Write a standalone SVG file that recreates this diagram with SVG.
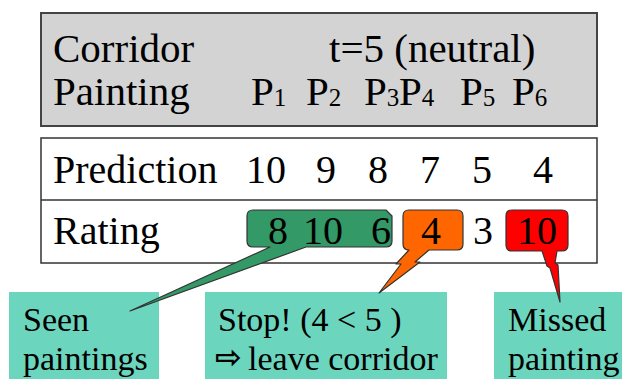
<svg xmlns="http://www.w3.org/2000/svg" width="622" height="379" viewBox="0 0 622 379">
<style>
svg text, svg tspan{font-family:'Liberation Serif', serif !important;fill:#000}
svg text.arrow{font-family:'DejaVu Sans', sans-serif !important;font-weight:bold}
.big{font-size:41px}
.mid{font-size:40px}
.sm{font-size:34px}
.sub{font-size:25px}
.lbl{fill:#6CD5BE}
.bub{stroke:#333;stroke-width:1.2;stroke-linejoin:round}
</style>
<rect width="622" height="379" fill="#fff"/>
<g id="header">
<rect x="41" y="13" width="556" height="113" fill="#D3D3D3" stroke="#444" stroke-width="2"/>
<text class="big" style="font-family:'Liberation Serif',serif !important" x="53" y="62">Corridor</text>
<text class="big" style="font-family:'Liberation Serif',serif !important" x="329" y="62">t=5 (neutral)</text>
<text class="big" style="font-family:'Liberation Serif',serif !important" x="53" y="105">Painting</text>
<text class="big" style="font-family:'Liberation Serif',serif !important" x="251" y="105">P<tspan class="sub" dy="1">1</tspan></text>
<text class="big" style="font-family:'Liberation Serif',serif !important" x="306" y="105">P<tspan class="sub" dy="1">2</tspan></text>
<text class="big" style="font-family:'Liberation Serif',serif !important" x="364" y="105">P<tspan class="sub" dy="1">3</tspan></text>
<text class="big" style="font-family:'Liberation Serif',serif !important" x="399" y="105">P<tspan class="sub" dy="1">4</tspan></text>
<text class="big" style="font-family:'Liberation Serif',serif !important" x="460" y="105">P<tspan class="sub" dy="1">5</tspan></text>
<text class="big" style="font-family:'Liberation Serif',serif !important" x="512" y="105">P<tspan class="sub" dy="1">6</tspan></text>
</g>
<g id="table">
<rect x="41" y="138" width="556" height="125" fill="#fff" stroke="#333" stroke-width="1.5"/>
<line x1="41" y1="200" x2="597" y2="200" stroke="#333" stroke-width="1.5"/>
<text class="mid" style="font-family:'Liberation Serif',serif !important" x="53" y="183">Prediction</text>
<text class="mid" style="font-family:'Liberation Serif',serif !important" x="246" y="183">10</text>
<text class="mid" style="font-family:'Liberation Serif',serif !important" x="316" y="183">9</text>
<text class="mid" style="font-family:'Liberation Serif',serif !important" x="368" y="183">8</text>
<text class="mid" style="font-family:'Liberation Serif',serif !important" x="420" y="183">7</text>
<text class="mid" style="font-family:'Liberation Serif',serif !important" x="472" y="183">5</text>
<text class="mid" style="font-family:'Liberation Serif',serif !important" x="533" y="183">4</text>
<text class="mid" style="font-family:'Liberation Serif',serif !important" x="53" y="244">Rating</text>
<text class="mid" style="font-family:'Liberation Serif',serif !important" x="473" y="244">3</text>
</g>
<g id="seen-label">
<rect class="lbl" x="9" y="292" width="150" height="87"/>
<text class="sm" style="font-family:'Liberation Serif',serif !important" x="23" y="331">Seen</text>
<text class="sm" style="font-family:'Liberation Serif',serif !important" x="23" y="370">paintings</text>
</g>
<g id="stop-label">
<rect class="lbl" x="205" y="292" width="242" height="87"/>
<text class="sm" style="font-family:'Liberation Serif',serif !important" x="218" y="331">Stop! (4 &lt; 5 )</text>
<text class="arrow" x="215" y="368" font-size="32">⇨</text>
<text class="sm" style="font-family:'Liberation Serif',serif !important" x="248" y="370">leave corridor</text>
</g>
<g id="missed-label">
<rect class="lbl" x="494" y="292" width="128" height="87"/>
<text class="sm" style="font-family:'Liberation Serif',serif !important" x="508" y="331">Missed</text>
<text class="sm" style="font-family:'Liberation Serif',serif !important" x="508" y="370">painting</text>
</g>
<g id="connectors">
<path class="bub" fill="#339966" d="M253,210 H386 L392,216 V241 Q392,247 386,247 H306 L130,311 L270,247 H253 Q247,247 247,241 V216 Q247,210 253,210 Z"/>
<path class="bub" fill="#FF6600" d="M409,210 H457 Q463,210 463,216 V244 Q463,250 457,250 H429 L415,262 L420,262 L379,293 L401,264 L396,264 L409,250 Q403,250 403,244 V216 Q403,210 409,210 Z"/>
<path class="bub" fill="#FF0000" d="M512,210 H562 Q568,210 568,216 V245 Q568,251 562,251 H557 L555,263 L558,265 L560,302 L550,268 L547,266 L542,251 H512 Q506,251 506,245 V216 Q506,210 512,210 Z"/>
</g>
<g id="ratings">
<text class="mid" style="font-family:'Liberation Serif',serif !important" x="268" y="244">8</text>
<text class="mid" style="font-family:'Liberation Serif',serif !important" x="303" y="244">10</text>
<text class="mid" style="font-family:'Liberation Serif',serif !important" x="371" y="244">6</text>
<text class="mid" style="font-family:'Liberation Serif',serif !important" x="421" y="244">4</text>
<text class="mid" style="font-family:'Liberation Serif',serif !important" x="517" y="244">10</text>
</g>
</svg>
